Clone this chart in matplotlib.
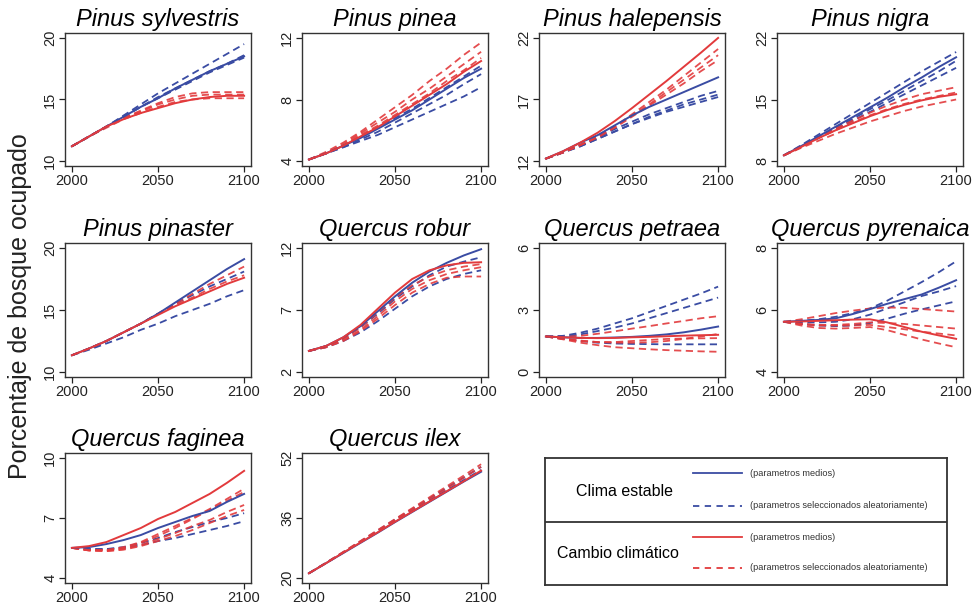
import matplotlib
matplotlib.use("Agg")
import matplotlib.pyplot as plt
from matplotlib.lines import Line2D

plt.rcParams['font.family'] = ['Liberation Sans', 'DejaVu Sans']

# Constant
BLUE = "#3a4ca3"
RED = "#e23a3c"
W, H = 974, 607

YEARS = [2000, 2010, 2020, 2030, 2040, 2050, 2060, 2070, 2080, 2090, 2100]

# Pinus sylvestris
SYLV_BLUE = [11.2, 12.0, 12.8, 13.6, 14.4, 15.1, 15.9, 16.6, 17.3, 17.9, 18.5]
SYLV_BLUE_RUNS = [
    [11.2, 12.0, 12.8, 13.7, 14.6, 15.5, 16.3, 17.1, 17.9, 18.7, 19.5],
    [11.2, 12.0, 12.8, 13.6, 14.4, 15.1, 15.8, 16.5, 17.2, 17.8, 18.4],
    [11.2, 12.0, 12.8, 13.6, 14.4, 15.2, 15.9, 16.6, 17.3, 17.9, 18.6],
]
SYLV_RED = [11.2, 12.0, 12.8, 13.4, 13.9, 14.3, 14.7, 15.0, 15.2, 15.3, 15.3]
SYLV_RED_RUNS = [
    [11.2, 12.0, 12.8, 13.5, 14.1, 14.7, 15.2, 15.5, 15.6, 15.6, 15.6],
    [11.2, 12.0, 12.8, 13.5, 14.0, 14.6, 15.0, 15.3, 15.4, 15.4, 15.4],
    [11.2, 12.0, 12.7, 13.4, 13.9, 14.4, 14.8, 15.0, 15.1, 15.1, 15.1],
]

# Pinus pinea
PINEA_BLUE = [4.1, 4.5, 5.0, 5.5, 6.1, 6.7, 7.3, 8.0, 8.7, 9.4, 10.0]
PINEA_BLUE_RUNS = [
    [4.1, 4.5, 5.0, 5.6, 6.2, 6.8, 7.4, 8.1, 8.8, 9.5, 10.2],
    [4.1, 4.5, 4.9, 5.4, 5.9, 6.5, 7.1, 7.7, 8.3, 9.0, 9.65],
    [4.1, 4.5, 4.9, 5.3, 5.7, 6.2, 6.7, 7.2, 7.7, 8.2, 8.8],
]
PINEA_RED = [4.1, 4.5, 5.0, 5.6, 6.2, 6.9, 7.6, 8.3, 9.0, 9.8, 10.5]
PINEA_RED_RUNS = [
    [4.1, 4.6, 5.2, 5.9, 6.7, 7.5, 8.3, 9.2, 10.0, 10.9, 11.7],
    [4.1, 4.5, 5.1, 5.8, 6.5, 7.2, 8.0, 8.7, 9.5, 10.3, 11.1],
    [4.1, 4.5, 5.0, 5.7, 6.3, 7.0, 7.7, 8.4, 9.2, 9.9, 10.7],
]

# Pinus halepensis
HALE_BLUE = [12.2, 12.8, 13.5, 14.1, 14.9, 15.7, 16.4, 17.0, 17.6, 18.2, 18.8]
HALE_BLUE_RUNS = [
    [12.2, 12.7, 13.3, 13.9, 14.6, 15.2, 15.8, 16.3, 16.8, 17.3, 17.7],
    [12.2, 12.7, 13.2, 13.8, 14.4, 15.0, 15.6, 16.1, 16.6, 17.0, 17.4],
    [12.2, 12.7, 13.2, 13.8, 14.4, 15.0, 15.5, 16.0, 16.4, 16.8, 17.2],
]
HALE_RED = [12.2, 12.8, 13.5, 14.3, 15.25, 16.3, 17.4, 18.5, 19.65, 20.8, 22.0]
HALE_RED_RUNS = [
    [12.2, 12.7, 13.3, 14.0, 14.8, 15.8, 16.8, 17.8, 18.9, 20.0, 21.1],
    [12.2, 12.7, 13.3, 14.0, 14.8, 15.7, 16.6, 17.6, 18.6, 19.6, 20.6],
    [12.2, 12.7, 13.3, 13.9, 14.7, 15.6, 16.5, 17.4, 18.3, 19.3, 20.2],
]

# Pinus nigra
NIGRA_BLUE = [8.65, 9.7, 10.8, 11.9, 13.0, 14.1, 15.2, 16.4, 17.5, 18.7, 19.8]
NIGRA_BLUE_RUNS = [
    [8.65, 9.8, 11.0, 12.2, 13.4, 14.6, 15.8, 17.0, 18.2, 19.3, 20.4],
    [8.65, 9.7, 10.7, 11.8, 12.8, 13.9, 14.9, 16.0, 17.1, 18.2, 19.4],
    [8.65, 9.6, 10.6, 11.6, 12.6, 13.6, 14.6, 15.6, 16.6, 17.6, 18.6],
]
NIGRA_RED = [8.65, 9.6, 10.6, 11.5, 12.3, 13.1, 13.8, 14.4, 14.9, 15.3, 15.6]
NIGRA_RED_RUNS = [
    [8.65, 9.7, 10.7, 11.7, 12.6, 13.5, 14.3, 15.0, 15.6, 16.0, 16.4],
    [8.65, 9.5, 10.3, 11.1, 11.8, 12.5, 13.1, 13.7, 14.2, 14.6, 15.0],
    [8.65, 9.6, 10.6, 11.5, 12.4, 13.2, 13.9, 14.5, 15.0, 15.4, 15.8],
]

# Pinus pinaster
PINA_BLUE = [11.35, 11.9, 12.5, 13.2, 13.9, 14.7, 15.6, 16.5, 17.4, 18.3, 19.1]
PINA_BLUE_RUNS = [
    [11.35, 11.8, 12.3, 12.8, 13.4, 13.9, 14.5, 15.0, 15.5, 16.1, 16.6],
    [11.35, 11.9, 12.5, 13.2, 13.9, 14.7, 15.5, 16.2, 16.9, 17.5, 18.1],
]
PINA_RED = [11.35, 11.9, 12.5, 13.2, 13.9, 14.6, 15.3, 15.9, 16.5, 17.1, 17.6]
PINA_RED_RUNS = [
    [11.35, 11.9, 12.5, 13.2, 13.9, 14.7, 15.5, 16.3, 17.1, 17.8, 18.5],
    [11.35, 11.9, 12.5, 13.2, 13.9, 14.7, 15.4, 16.0, 16.7, 17.3, 17.8],
]

# Quercus robur
ROBUR_BLUE = [3.7, 4.1, 4.8, 5.7, 6.9, 8.1, 9.2, 10.1, 10.8, 11.4, 11.9]
ROBUR_BLUE_RUNS = [
    [3.7, 4.1, 4.7, 5.6, 6.7, 7.9, 8.9, 9.8, 10.5, 10.9, 11.25],
    [3.7, 4.0, 4.5, 5.2, 6.1, 7.1, 8.1, 8.9, 9.5, 9.9, 10.2],
]
ROBUR_RED = [3.7, 4.1, 4.8, 5.8, 7.1, 8.4, 9.5, 10.2, 10.6, 10.8, 10.85]
ROBUR_RED_RUNS = [
    [3.7, 4.1, 4.7, 5.6, 6.8, 8.0, 9.0, 9.7, 10.2, 10.5, 10.7],
    [3.7, 4.0, 4.6, 5.4, 6.5, 7.7, 8.7, 9.4, 9.9, 10.2, 10.45],
    [3.7, 4.0, 4.5, 5.3, 6.3, 7.4, 8.4, 9.1, 9.6, 9.7, 9.7],
]

# Quercus petraea
PETR_BLUE = [1.72, 1.68, 1.65, 1.65, 1.67, 1.7, 1.75, 1.82, 1.92, 2.05, 2.2]
PETR_BLUE_RUNS = [
    [1.72, 1.75, 1.9, 2.1, 2.35, 2.6, 2.9, 3.2, 3.5, 3.8, 4.13],
    [1.72, 1.72, 1.82, 1.98, 2.15, 2.35, 2.6, 2.85, 3.1, 3.35, 3.6],
    [1.72, 1.6, 1.5, 1.42, 1.38, 1.36, 1.35, 1.34, 1.34, 1.34, 1.34],
]
PETR_RED = [1.72, 1.68, 1.65, 1.64, 1.65, 1.68, 1.7, 1.73, 1.76, 1.78, 1.8]
PETR_RED_RUNS = [
    [1.72, 1.7, 1.75, 1.85, 1.97, 2.1, 2.22, 2.35, 2.47, 2.6, 2.7],
    [1.72, 1.62, 1.52, 1.45, 1.42, 1.42, 1.44, 1.5, 1.6, 1.72, 1.84],
    [1.72, 1.6, 1.5, 1.45, 1.45, 1.5, 1.55, 1.6, 1.62, 1.63, 1.64],
    [1.72, 1.58, 1.42, 1.3, 1.2, 1.15, 1.1, 1.06, 1.03, 1.0, 0.98],
]

# Quercus pyrenaica
PYR_BLUE = [5.62, 5.65, 5.68, 5.73, 5.87, 6.03, 6.2, 6.35, 6.5, 6.72, 6.96]
PYR_BLUE_RUNS = [
    [5.62, 5.65, 5.7, 5.78, 5.9, 6.05, 6.3, 6.6, 6.9, 7.22, 7.57],
    [5.62, 5.6, 5.6, 5.62, 5.7, 5.85, 6.05, 6.25, 6.45, 6.6, 6.77],
    [5.62, 5.55, 5.5, 5.48, 5.5, 5.58, 5.72, 5.88, 6.02, 6.15, 6.28],
]
PYR_RED = [5.62, 5.63, 5.65, 5.67, 5.69, 5.7, 5.6, 5.45, 5.3, 5.18, 5.07]
PYR_RED_RUNS = [
    [5.62, 5.7, 5.8, 5.9, 5.98, 6.05, 6.08, 6.07, 6.03, 5.99, 5.95],
    [5.62, 5.55, 5.52, 5.52, 5.55, 5.6, 5.58, 5.55, 5.5, 5.45, 5.4],
    [5.62, 5.55, 5.5, 5.5, 5.5, 5.52, 5.45, 5.38, 5.3, 5.24, 5.18],
    [5.62, 5.5, 5.42, 5.4, 5.42, 5.45, 5.35, 5.2, 5.05, 4.92, 4.8],
]

# Quercus faginea
FAG_BLUE = [5.51, 5.55, 5.7, 5.9, 6.15, 6.5, 6.8, 7.1, 7.35, 7.8, 8.2]
FAG_BLUE_RUNS = [
    [5.51, 5.45, 5.45, 5.55, 5.75, 6.0, 6.3, 6.55, 6.8, 7.0, 7.24],
    [5.51, 5.45, 5.45, 5.5, 5.65, 5.85, 6.0, 6.2, 6.4, 6.6, 6.84],
]
FAG_RED = [5.51, 5.6, 5.8, 6.15, 6.5, 6.95, 7.3, 7.75, 8.2, 8.75, 9.35]
FAG_RED_RUNS = [
    [5.51, 5.4, 5.4, 5.55, 5.8, 6.2, 6.6, 7.0, 7.45, 7.95, 8.46],
    [5.51, 5.4, 5.4, 5.5, 5.75, 6.1, 6.5, 6.95, 7.4, 7.85, 8.3],
    [5.51, 5.38, 5.35, 5.45, 5.65, 5.95, 6.25, 6.6, 6.9, 7.3, 7.65],
    [5.51, 5.38, 5.35, 5.42, 5.6, 5.85, 6.1, 6.4, 6.75, 7.1, 7.4],
]

# Quercus ilex
ILEX_BLUE = [21.3, 24.0, 26.7, 29.4, 32.1, 34.9, 37.6, 40.3, 43.0, 45.7, 48.3]
ILEX_BLUE_RUNS = [
    [21.3, 24.1, 26.9, 29.8, 32.7, 35.6, 38.4, 41.2, 44.0, 46.8, 49.6],
    [21.3, 24.0, 26.8, 29.6, 32.4, 35.2, 37.9, 40.7, 43.4, 46.1, 48.8],
]
ILEX_RED = [21.3, 24.0, 26.8, 29.5, 32.2, 35.0, 37.7, 40.4, 43.1, 45.8, 48.6]
ILEX_RED_RUNS = [
    [21.3, 24.1, 27.0, 29.9, 32.8, 35.7, 38.6, 41.5, 44.4, 47.3, 50.3],
    [21.3, 24.1, 26.9, 29.7, 32.5, 35.4, 38.2, 41.0, 43.8, 46.7, 49.6],
]

TITLES = ["Pinus sylvestris", "Pinus pinea", "Pinus halepensis", "Pinus nigra",
          "Pinus pinaster", "Quercus robur", "Quercus petraea", "Quercus pyrenaica",
          "Quercus faginea", "Quercus ilex"]
Y_TICKS = [(10, 15, 20), (4, 8, 12), (12, 17, 22), (8, 15, 22),
           (10, 15, 20), (2, 7, 12), (0, 3, 6), (4, 6, 8),
           (4, 7, 10), (20, 36, 52)]
X_TICKS = [2000, 2050, 2100]
SERIES = [
    (SYLV_BLUE, SYLV_BLUE_RUNS, SYLV_RED, SYLV_RED_RUNS),
    (PINEA_BLUE, PINEA_BLUE_RUNS, PINEA_RED, PINEA_RED_RUNS),
    (HALE_BLUE, HALE_BLUE_RUNS, HALE_RED, HALE_RED_RUNS),
    (NIGRA_BLUE, NIGRA_BLUE_RUNS, NIGRA_RED, NIGRA_RED_RUNS),
    (PINA_BLUE, PINA_BLUE_RUNS, PINA_RED, PINA_RED_RUNS),
    (ROBUR_BLUE, ROBUR_BLUE_RUNS, ROBUR_RED, ROBUR_RED_RUNS),
    (PETR_BLUE, PETR_BLUE_RUNS, PETR_RED, PETR_RED_RUNS),
    (PYR_BLUE, PYR_BLUE_RUNS, PYR_RED, PYR_RED_RUNS),
    (FAG_BLUE, FAG_BLUE_RUNS, FAG_RED, FAG_RED_RUNS),
    (ILEX_BLUE, ILEX_BLUE_RUNS, ILEX_RED, ILEX_RED_RUNS),
]

# panel boxes in pixels
COL_LEFT = [65, 302, 539, 777]
ROW_TOP = [33, 243, 453]
AX_W = 186
AX_H = [133, 134, 130]

DASH = (4, 2.5)


def px_box(left, top, width, height):
    """pixel box -> figure fraction."""
    return [left / W, 1 - (top + height) / H, width / W, height / H]


def pad_lim(lo, hi):
    d = (hi - lo) * 0.04
    return lo - d, hi + d


fig = plt.figure(figsize=(W / 100, H / 100), dpi=100)

for i, title in enumerate(TITLES):
    row, col = divmod(i, 4)
    ax = fig.add_axes(px_box(COL_LEFT[col], ROW_TOP[row], AX_W, AX_H[row]))
    blue, blue_runs, red, red_runs = SERIES[i]

    for run in blue_runs:
        ax.plot(YEARS, run, color=BLUE, lw=1.3, dashes=DASH)
    for run in red_runs:
        ax.plot(YEARS, run, color=RED, lw=1.3, dashes=DASH, alpha=0.9)
    ax.plot(YEARS, blue, color=BLUE, lw=1.4)
    ax.plot(YEARS, red, color=RED, lw=1.4)

    yt = Y_TICKS[i]
    ax.set_xlim(*pad_lim(2000, 2100))
    ax.set_ylim(*pad_lim(yt[0], yt[-1]))
    ax.set_xticks(X_TICKS)
    ax.set_yticks(yt)
    ax.set_yticklabels([str(v) for v in yt], rotation=90, va="center")
    ax.tick_params(length=4, width=0.9, pad=1.5, labelsize=10.5, colors="#222222")
    for s in ax.spines.values():
        s.set_linewidth(1.0)
        s.set_color("#333333")
    ax.set_title(title, fontsize=17, style="italic", pad=5)

fig.text(20 / W, 1 - 306 / H, "Porcentaje de bosque ocupado", rotation=90,
         fontsize=18, ha="center", va="center", color="#222222")

# legend box
lg = fig.add_axes(px_box(545, 458, 402, 127))
lg.set_xlim(545, 947)
lg.set_ylim(585, 458)
lg.set_xticks([])
lg.set_yticks([])
for s in lg.spines.values():
    s.set_linewidth(1.3)
    s.set_color("#333333")
lg.axhline(522, color="#333333", lw=1.3)
lg.text(625, 492, "Clima estable", fontsize=11.5, ha="center", va="center")
lg.text(618, 553, "Cambio climático", fontsize=11.5, ha="center", va="center")
entries = [(473, BLUE, "-"), (506, BLUE, "--"), (537, RED, "-"), (568, RED, "--")]
labels = ["(parametros medios)", "(parametros seleccionados aleatoriamente)"] * 2
for (yy, c, ls), lab in zip(entries, labels):
    ln = Line2D([693, 742], [yy, yy], color=c, lw=1.3)
    if ls == "--":
        ln.set_dashes((3.5, 3))
    lg.add_line(ln)
    lg.text(750, yy, lab, fontsize=6.6, ha="left", va="center", color="#333333")

fig.savefig("out.png", dpi=100)
